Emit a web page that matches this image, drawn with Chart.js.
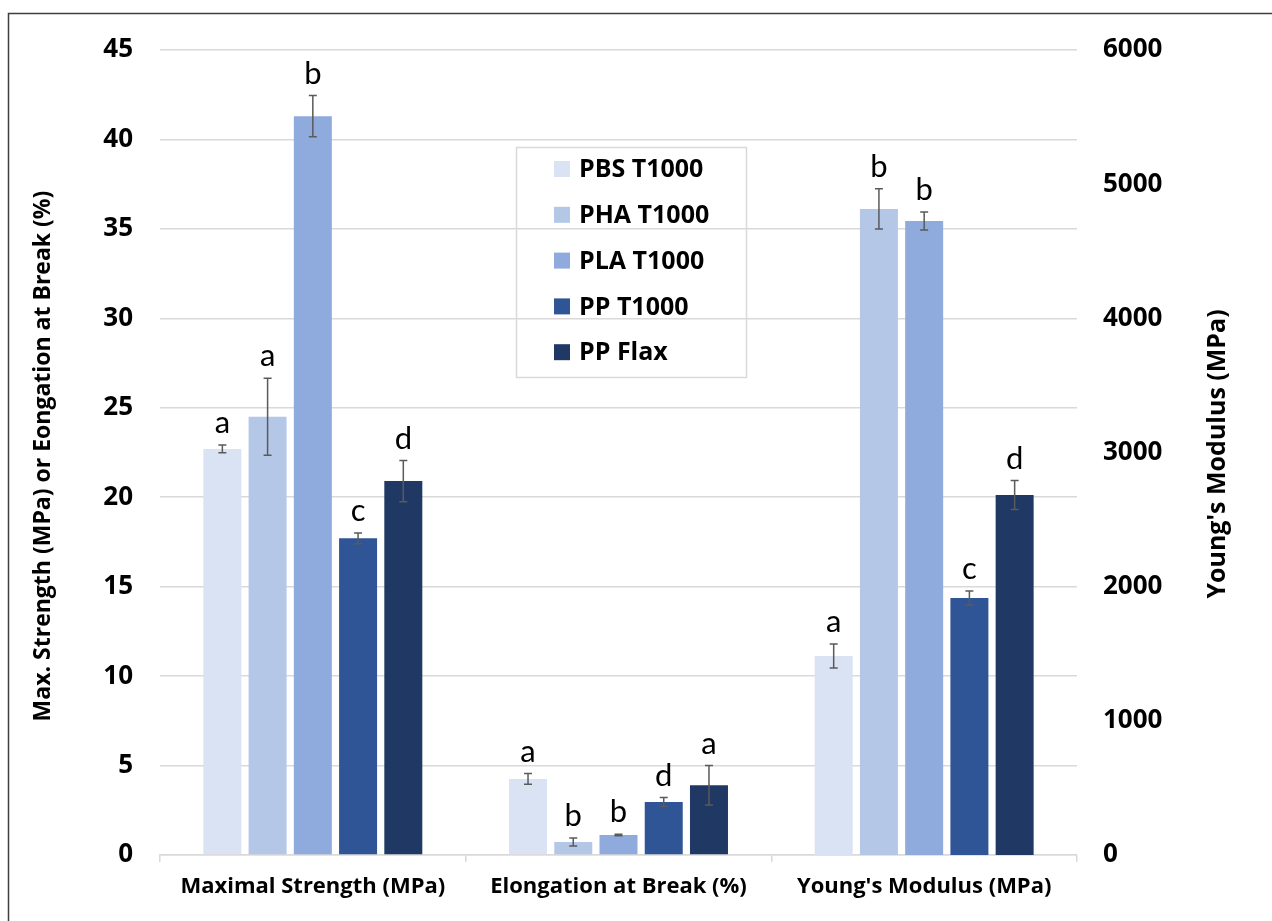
<!DOCTYPE html>
<html>
<head>
<meta charset="utf-8">
<script src="https://cdn.jsdelivr.net/npm/chart.js@4/dist/chart.umd.min.js"></script>
<style>
  html, body { margin: 0; padding: 0; background: #fff; }
  #wrap { position: relative; width: 1272px; height: 921px; }
</style>
</head>
<body>
<div id="wrap"><canvas id="c" width="1272" height="921"></canvas></div>
<script>
// ---- data ----
const categories = ["Maximal Strength (MPa)", "Elongation at Break (%)", "Young's Modulus (MPa)"];
const seriesNames = ["PBS T1000", "PHA T1000", "PLA T1000", "PP T1000", "PP Flax"];
const seriesColors = ["#DAE3F3", "#B4C7E7", "#8FAADC", "#2F5597", "#203864"];

const maxStrength = [22.7, 24.5, 41.3, 17.7, 20.9];
const maxStrengthErr = [0.22, 2.15, 1.15, 0.3, 1.15];
const maxStrengthLetters = ["a", "a", "b", "c", "d"];

const elongation = [4.25, 0.73, 1.12, 2.96, 3.9];
const elongationErr = [0.3, 0.22, 0.04, 0.25, 1.1];
const elongationLetters = ["a", "b", "b", "d", "a"];

const youngsModulus = [1483, 4815, 4725, 1915, 2683];
const youngsModulusErr = [90, 150, 67, 52, 108];
const youngsModulusLetters = ["a", "b", "b", "c", "d"];

const leftAxisTitle = "Max. Strength (MPa) or Eongation at Break (%)";
const rightAxisTitle = "Young's Modulus (MPa)";

const BOLD = "'Open Sans', 'Noto Sans', sans-serif";
const LETTER = "Lato, 'Open Sans', sans-serif";

// ---- datasets: left-axis (strength, elongation) and right-axis (modulus) ----
const datasets = [];
seriesNames.forEach((name, i) => {
  datasets.push({
    label: name,
    data: [maxStrength[i], elongation[i], null],
    err: [maxStrengthErr[i], elongationErr[i], null],
    letters: [maxStrengthLetters[i], elongationLetters[i], null],
    backgroundColor: seriesColors[i],
    yAxisID: 'y',
    skipNull: true
  });
});
seriesNames.forEach((name, i) => {
  datasets.push({
    label: name,
    data: [null, null, youngsModulus[i]],
    err: [null, null, youngsModulusErr[i]],
    letters: [null, null, youngsModulusLetters[i]],
    backgroundColor: seriesColors[i],
    yAxisID: 'y1',
    skipNull: true
  });
});

const decorPlugin = {
  id: 'decor',
  beforeDraw(chart) {
    const ctx = chart.ctx;
    ctx.save();
    ctx.fillStyle = '#fff';
    ctx.fillRect(0, 0, chart.width, chart.height);
    ctx.strokeStyle = '#3f3f3f';
    ctx.lineWidth = 1.5;
    ctx.beginPath();
    ctx.moveTo(8.5, chart.height + 5);
    ctx.lineTo(8.5, 13.5);
    ctx.lineTo(chart.width + 5, 13.5);
    ctx.stroke();
    ctx.restore();
  },
  afterDatasetsDraw(chart) {
    const ctx = chart.ctx;
    ctx.save();
    chart.data.datasets.forEach((ds, di) => {
      const meta = chart.getDatasetMeta(di);
      const scale = chart.scales[ds.yAxisID];
      meta.data.forEach((bar, j) => {
        const v = ds.data[j];
        if (v === null || v === undefined) return;
        const e = ds.err[j];
        const x = bar.x;
        const yT = scale.getPixelForValue(v + e);
        const yB = scale.getPixelForValue(v - e);
        ctx.strokeStyle = '#5a5a5a';
        ctx.lineWidth = 1.5;
        ctx.beginPath();
        ctx.moveTo(x, yT); ctx.lineTo(x, yB);
        ctx.moveTo(x - 4, yT); ctx.lineTo(x + 4, yT);
        ctx.moveTo(x - 4, yB); ctx.lineTo(x + 4, yB);
        ctx.stroke();
        ctx.fillStyle = '#000';
        ctx.font = "31px " + LETTER;
        ctx.textAlign = 'center';
        ctx.textBaseline = 'alphabetic';
        ctx.fillText(ds.letters[j], x, yT - 12);
      });
    });
    ctx.restore();
  },
  afterDraw(chart) {
    const ctx = chart.ctx;
    ctx.save();
    // legend box
    const lx = 516, ly = 147, lw = 230, lh = 230;
    ctx.strokeStyle = '#d9d9d9';
    ctx.lineWidth = 1.5;
    ctx.strokeRect(lx + 0.5, ly + 0.5, lw, lh);
    ctx.font = "bold 25px " + BOLD;
    ctx.textAlign = 'left';
    ctx.textBaseline = 'middle';
    seriesNames.forEach((name, i) => {
      const cy = ly + 22 + i * 45.8;
      ctx.fillStyle = seriesColors[i];
      ctx.fillRect(554, cy - 8, 16, 16);
      ctx.fillStyle = '#000';
      ctx.fillText(name, 579, cy + 1);
    });
    ctx.restore();

    // axis titles (both read bottom-to-top)
    const drawTitle = (text, x, y, size) => {
      ctx.save();
      ctx.translate(x, y);
      ctx.rotate(-Math.PI / 2);
      ctx.textAlign = 'center';
      ctx.textBaseline = 'middle';
      ctx.font = "bold " + size + "px " + BOLD;
      ctx.fillStyle = '#000';
      ctx.fillText(text, 0, 0);
      ctx.restore();
    };
    drawTitle(leftAxisTitle, 43, 456, 23);
    drawTitle(rightAxisTitle, 1218, 454, 25);
  }
};

new Chart(document.getElementById('c'), {
  type: 'bar',
  data: { labels: categories, datasets: datasets },
  options: {
    responsive: false,
    animation: false,
    layout: { padding: { top: 50, left: 0, right: 0, bottom: 0 } },
    datasets: { bar: { categoryPercentage: 0.74, barPercentage: 0.84, skipNull: true } },
    plugins: { legend: { display: false }, tooltip: { enabled: false } },
    scales: {
      x: {
        offset: true,
        grid: { display: true, offset: true, drawOnChartArea: false, drawTicks: true, tickLength: 7, color: '#d9d9d9', lineWidth: 1.5 },
        border: { display: true, color: '#d9d9d9', width: 1.5 },
        ticks: { color: '#000', font: { family: BOLD, size: 22, weight: 'bold' }, padding: 12, maxRotation: 0 },
        afterFit: s => { s.height = 66; }
      },
      y: {
        position: 'left',
        min: 0, max: 45,
        ticks: { stepSize: 5, color: '#000', font: { family: BOLD, size: 26, weight: 'bold' }, padding: 27 },
        grid: { color: '#d9d9d9', lineWidth: 1.5, drawTicks: false },
        border: { display: false },
        afterFit: s => { s.width = 160; }
      },
      y1: {
        position: 'right',
        min: 0, max: 6000,
        ticks: { stepSize: 1000, color: '#000', font: { family: BOLD, size: 26, weight: 'bold' }, padding: 26, callback: v => String(v) },
        grid: { display: false, drawTicks: false },
        border: { display: false },
        afterFit: s => { s.width = 195; }
      }
    }
  },
  plugins: [decorPlugin]
});
</script>
</body>
</html>
